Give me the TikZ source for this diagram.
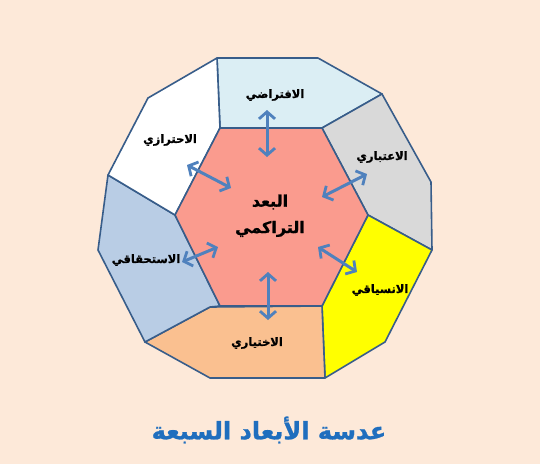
\documentclass[tikz,border=0pt]{standalone}
\usepackage{fontspec}
\newfontfamily\arabicfont[Script=Arabic,FakeBold=1]{DejaVu Sans Bold}
\TeXXeTstate=1
\usetikzlibrary{arrows.meta}
\usetikzlibrary{positioning}

\definecolor{bgpeach}{RGB}{253,233,217}
\definecolor{edgeblue}{RGB}{56,93,138}
\definecolor{arrowblue}{RGB}{79,129,189}
\definecolor{topblue}{RGB}{219,238,244}
\definecolor{sidegray}{RGB}{217,217,217}
\definecolor{sideyellow}{RGB}{255,255,0}
\definecolor{sideorange}{RGB}{250,192,144}
\definecolor{sideblue}{RGB}{185,205,229}
\definecolor{hexsalmon}{RGB}{250,155,142}
\definecolor{titleblue}{RGB}{31,110,190}

\newcommand{\ar}[1]{\arabicfont\beginR #1\endR}

\begin{document}
\begin{tikzpicture}[x=1pt,y=-1pt,
		face/.style={draw=edgeblue, line width=1.6pt, line join=round},
		dimlabel/.style={font=\fontsize{11.5}{13}\selectfont, text=black, inner sep=1pt},
		link/.style={draw=arrowblue, line width=3pt,
			{Straight Barb[length=7pt,width=16pt,line width=2.8pt]}-{Straight Barb[length=7pt,width=16pt,line width=2.8pt]}}]

			\fill[bgpeach] (0,0) rectangle (540,464);
			\useasboundingbox (0,0) rectangle (540,464);

			% outer ring
			\coordinate (o1) at (217,58);  \coordinate (o2) at (318,58);
			\coordinate (o3) at (382,94);  \coordinate (o4) at (431,182);
			\coordinate (o5) at (432,250); \coordinate (o6) at (385,342);
			\coordinate (o7) at (325,378); \coordinate (o8) at (210,378);
			\coordinate (o9) at (145,342); \coordinate (o10) at (98,250);
			\coordinate (o11) at (108,175); \coordinate (o12) at (148,98);
			\coordinate (p) at (210,307);

			% hexagon
			\coordinate (h1) at (220,128); \coordinate (h2) at (322,128);
			\coordinate (h3) at (368,215); \coordinate (h4) at (322,306);
			\coordinate (h5) at (220,306); \coordinate (h6) at (175,215);

			\filldraw[face, fill=topblue] (o1) -- (o2) -- (o3) -- (h2) -- (h1) -- cycle;
			\filldraw[face, fill=sidegray] (h2) -- (o3) -- (o4) -- (o5) -- (h3) -- cycle;
			\filldraw[face, fill=sideyellow] (h3) -- (o5) -- (o6) -- (o7) -- (h4) -- cycle;
			\filldraw[face, fill=sideorange] (h4) -- (o7) -- (o8) -- (o9) -- (p) -- cycle;
			\filldraw[face, fill=sideblue] (o11) -- (o10) -- (o9) -- (p) -- (h5) -- (h6) -- cycle;
			\filldraw[face, fill=white] (o12) -- (o11) -- (h6) -- (h1) -- (o1) -- cycle;
			\filldraw[face, fill=hexsalmon] (h1) -- (h2) -- (h3) -- (h4) -- (h5) -- (h6) -- cycle;

			% arrow ends
			\coordinate (a1) at (267,110); \coordinate (b1) at (267,157);
			\coordinate (a2) at (187,165); \coordinate (b2) at (231,188);
			\coordinate (a3) at (367,174); \coordinate (b3) at (322,197);
			\coordinate (a4) at (182,262); \coordinate (b4) at (218,247);
			\coordinate (a5) at (357,272); \coordinate (b5) at (318,247);
			\coordinate (a6) at (268,320); \coordinate (b6) at (268,272);

			\foreach \i in {1,...,6}
				\draw[link] (a\i) -- (b\i);

			\node[dimlabel] (fd) at (275,95) {\ar{الافتراضي}};
			\node[dimlabel] (ib) at (382,157) {\ar{الاعتباري}};
			\node[dimlabel] (ns) at (380,290) {\ar{الانسياقي}};
			\node[dimlabel] (kh) at (257,343) {\ar{الاختياري}};
			\node[dimlabel] (st) at (146,260) {\ar{الاستحقاقي}};
			\node[dimlabel] (ht) at (170,140) {\ar{الاحترازي}};

			\node[font=\fontsize{16}{18}\selectfont, inner sep=1pt] (bd) at (270,202) {\ar{البعد}};
			\node[font=\fontsize{16}{18}\selectfont, inner sep=1pt, below=9pt of bd] (tr) {\ar{التراكمي}};

			\node[font=\fontsize{24}{28}\selectfont, text=titleblue] (title) at (269,430) {\ar{عدسة الأبعاد السبعة}};
		\end{tikzpicture}
\end{document}
